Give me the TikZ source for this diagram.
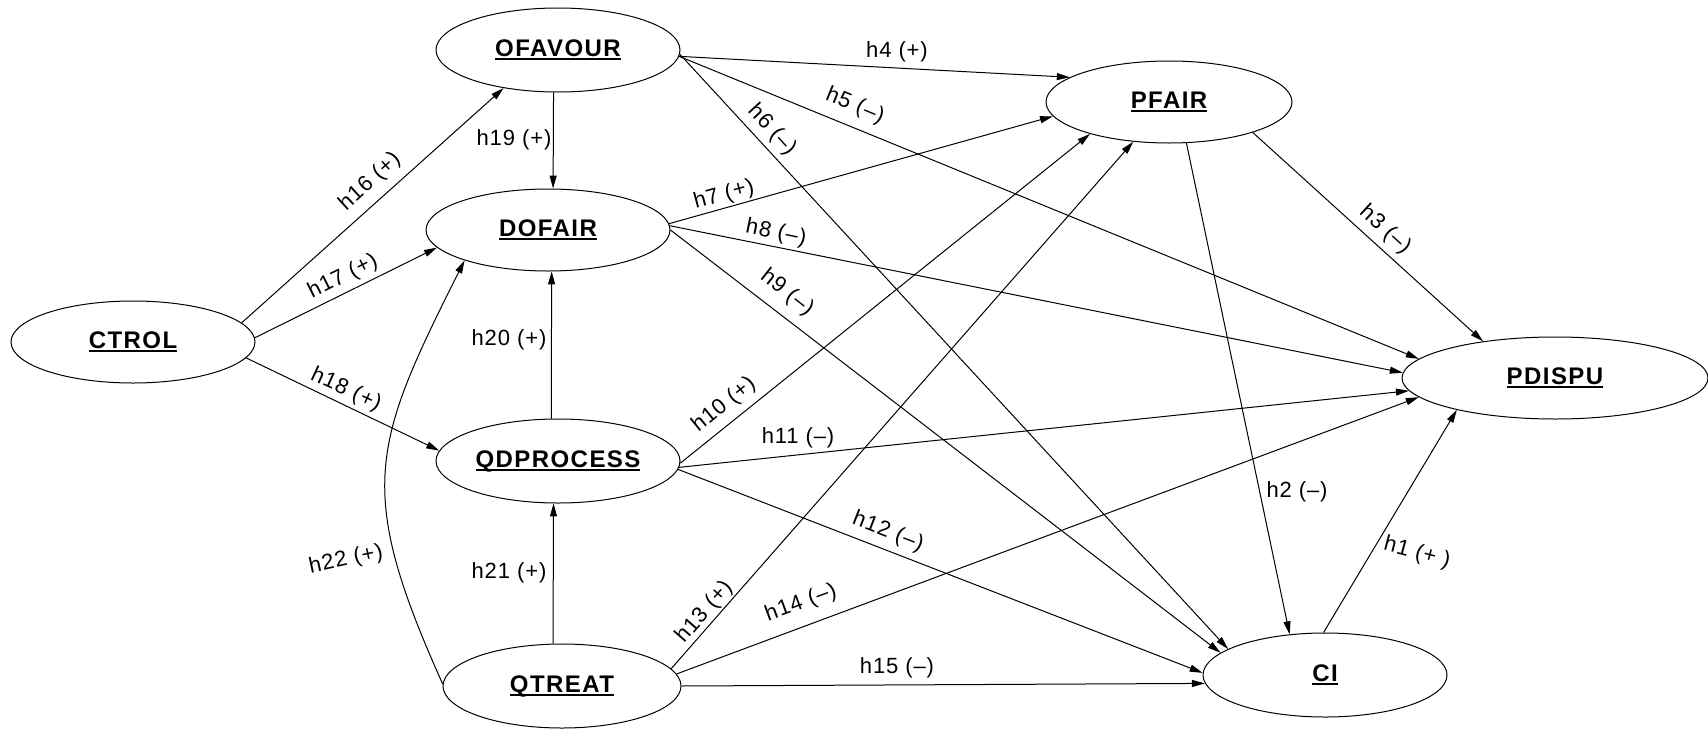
\documentclass[tikz,border=0pt]{standalone}
\usepackage{fontspec}
\setmainfont{Liberation Sans}
\newfontfamily\constructfont[LetterSpace=6]{Liberation Sans}
\newfontfamily\hypfont[LetterSpace=4]{Liberation Sans}
\usetikzlibrary{shapes.geometric,arrows.meta}

% bold construct name with a heavy underline
\newcommand\varname[1]{\setbox0\hbox{#1}\rlap{\rule[-4pt]{\wd0}{1.9pt}}\box0}

\tikzset{
  construct/.style={ellipse, draw, line width=1pt, inner sep=0pt,
    font=\constructfont\fontsize{24}{29}\selectfont\bfseries},
  link/.style={line width=1pt, -{Triangle[length=13pt,width=7pt]}},
  hyp/.style={font=\hypfont\fontsize{22}{26}\selectfont, inner sep=0pt},
}

\begin{document}
\begin{tikzpicture}[x=1pt,y=-1pt]
\useasboundingbox (0,0) rectangle (1708,731);

% constructs
\node[construct, minimum width=244pt, minimum height=82pt] (ctrol)   at (133,342)  {\varname{CTROL}};
\node[construct, minimum width=244pt, minimum height=84pt] (ofavour) at (558,50)   {\varname{OFAVOUR}};
\node[construct, minimum width=244pt, minimum height=82pt] (dofair)  at (548,230)  {\varname{DOFAIR}};
\node[construct, minimum width=244pt, minimum height=84pt] (qdproc)  at (558,461)  {\varname{QDPROCESS}};
\node[construct, minimum width=238pt, minimum height=84pt] (qtreat)  at (562,686)  {\varname{QTREAT}};
\node[construct, minimum width=246pt, minimum height=82pt] (pfair)   at (1169,102) {\varname{PFAIR}};
\node[construct, minimum width=306pt, minimum height=82pt] (pdispu)  at (1555,378) {\varname{PDISPU}};
\node[construct, minimum width=244pt, minimum height=84pt] (ci)      at (1325,675) {\varname{CI}};

% hypothesised paths
\draw[link] (ctrol.10)    -- (ofavour.215);
\draw[link] (ctrol.2)     -- (dofair.189);
\draw[link] (ctrol.-8)    -- (qdproc.175);
\draw[link] (ofavour.-96.8) -- (dofair.83);
\draw[link] (qdproc.99.5) -- (dofair.-85.8);
\draw[link] (qtreat.102)  -- (qdproc.-96.8);
\draw[link] (qtreat.179) .. controls (355,489) and (372,445) .. (dofair.200);

\draw[link] (ofavour.-3.3) -- (pfair.166.4);
\draw[link] (ofavour.-3.1) -- (pdispu.172.2);
\draw[link] (ofavour.-2.3) -- (ci.165.3);

\draw[link] (dofair.3.9)  -- (pfair.187.3);
\draw[link] (dofair.2.9)  -- (pdispu.178.2);
\draw[link] (dofair.0.9)  -- (ci.168.7);

\draw[link] (qdproc.-1.9) -- (pfair.202.1);
\draw[link] (qdproc.-3.8) -- (pdispu.185.7);
\draw[link] (qdproc.-4.2) -- (ci.179);

\draw[link] (qtreat.9.4)  -- (pfair.228);
\draw[link] (qtreat.6.9)  -- (pdispu.188.7);
\draw[link] (qtreat.0.5)  -- (ci.184.4);

\draw[link] (pfair.-20.3) -- (pdispu.153.7);
\draw[link] (pfair.-67.5) -- (ci.131.9);
\draw[link] (ci.92.9)     -- (pdispu.198.4);

% hypothesis labels
\node[hyp, rotate=42.4]  (l16) at (370,182) {h16 (+)};
\node[hyp, rotate=26.6]  (l17) at (343,277) {h17 (+)};
\node[hyp, rotate=-24.8] (l18) at (346,390) {h18 (+)};
\node[hyp]               (l19) at (514,140) {h19 (+)};
\node[hyp]               (l20) at (509,340) {h20 (+)};
\node[hyp]               (l21) at (509,573) {h21 (+)};
\node[hyp, rotate=12]    (l22) at (346,560) {h22 (+)};
\node[hyp]               (l4)  at (897,52)  {h4 (+)};
\node[hyp, rotate=-22.4] (l5)  at (855,106) {h5 (–)};
\node[hyp, rotate=-47.4] (l6)  at (772,130) {h6 (–)};
\node[hyp, rotate=15.2]  (l7)  at (724,195) {h7 (+)};
\node[hyp, rotate=-11.5] (l8)  at (776,233) {h8 (–)};
\node[hyp, rotate=-38.3] (l9)  at (787,293) {h9 (–)};
\node[hyp, rotate=39.1]  (l10) at (724,405) {h10 (+)};
\node[hyp]               (l11) at (798,438) {h11 (–)};
\node[hyp, rotate=-21.2] (l12) at (888,532) {h12 (–)};
\node[hyp, rotate=49]    (l13) at (705,612) {h13 (+)};
\node[hyp, rotate=20.3]  (l14) at (801,603) {h14 (–)};
\node[hyp]               (l15) at (897,668) {h15 (–)};
\node[hyp, rotate=-42.4] (l3)  at (1385,230) {h3 (–)};
\node[hyp]               (l2)  at (1297,492) {h2 (–)};
\node[hyp, rotate=-15]   (l1)  at (1417,553) {h1 (+ )};
\end{tikzpicture}
\end{document}
